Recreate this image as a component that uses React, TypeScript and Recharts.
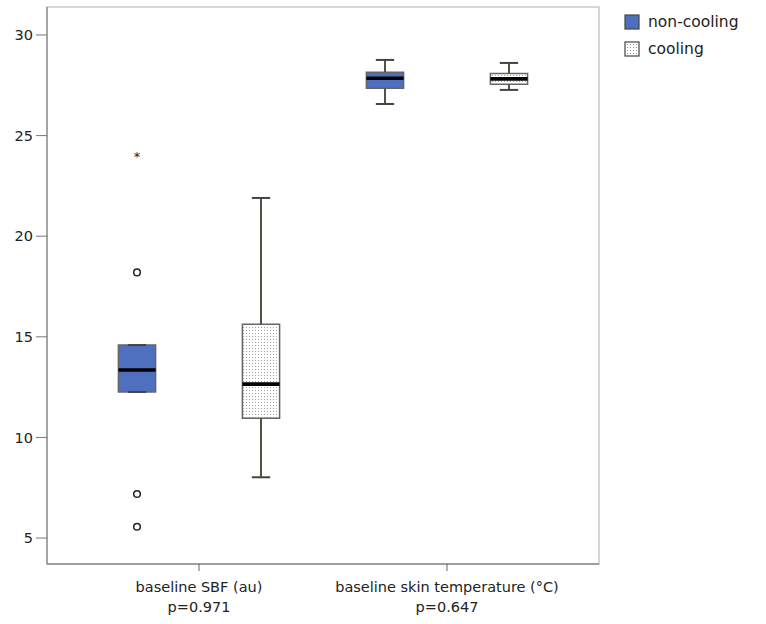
import React from "react";
import {
  ComposedChart,
  XAxis,
  YAxis,
  ReferenceArea,
  ReferenceLine,
  Scatter,
} from "recharts";

const categories = ["baseline SBF (au)", "baseline skin temperature (°C)"];
const pValues = ["p=0.971", "p=0.647"];
const categoryPositions = [1, 2];
const yTicks = [5, 10, 15, 20, 25, 30];

// box statistics per category: [SBF, skin temperature]
const nonCoolingMin = [12.26, 26.57];
const nonCoolingQ1 = [12.26, 27.35];
const nonCoolingMedian = [13.35, 27.85];
const nonCoolingQ3 = [14.59, 28.15];
const nonCoolingMax = [14.59, 28.76];

const coolingMin = [8.02, 27.27];
const coolingQ1 = [10.95, 27.55];
const coolingMedian = [12.65, 27.82];
const coolingQ3 = [15.62, 28.08];
const coolingMax = [21.9, 28.61];

// outliers (category index, value)
const nonCoolingOutlierCat = [0, 0, 0];
const nonCoolingOutlierVal = [18.2, 7.19, 5.56];
const nonCoolingExtremeCat = [0];
const nonCoolingExtremeVal = [24.04];

const BLUE = "#4f6fbf";
const FONT = "'DejaVu Sans', sans-serif";

const OFFSET = 0.25;
const BOX_HALF = 0.075;
const CAP_HALF = 0.037;

const groups = [
  {
    name: "non-cooling",
    offset: -OFFSET,
    fill: BLUE,
    min: nonCoolingMin,
    q1: nonCoolingQ1,
    median: nonCoolingMedian,
    q3: nonCoolingQ3,
    max: nonCoolingMax,
  },
  {
    name: "cooling",
    offset: OFFSET,
    fill: "url(#dots)",
    min: coolingMin,
    q1: coolingQ1,
    median: coolingMedian,
    q3: coolingQ3,
    max: coolingMax,
  },
];

const outlierData = nonCoolingOutlierCat.map((c, i) => ({
  x: categoryPositions[c] - OFFSET,
  y: nonCoolingOutlierVal[i],
}));
const extremeData = nonCoolingExtremeCat.map((c, i) => ({
  x: categoryPositions[c] - OFFSET,
  y: nonCoolingExtremeVal[i],
}));

const XTick = (props: any) => {
  const { x, y, payload } = props;
  const idx = categoryPositions.indexOf(payload.value);
  return (
    <g>
      <text x={x} y={y + 19} textAnchor="middle" fontSize={14.5} fontFamily={FONT} fill="#222">
        {categories[idx]}
      </text>
      <text x={x} y={y + 39} textAnchor="middle" fontSize={14.5} fontFamily={FONT} fill="#222">
        {pValues[idx]}
      </text>
    </g>
  );
};

const Circle = (props: any) => (
  <circle cx={props.cx} cy={props.cy} r={3.3} fill="#fff" stroke="#222" strokeWidth={1.5} />
);

const Star = (props: any) => (
  <text x={props.cx} y={props.cy + 6} textAnchor="middle" fontSize={13} fontFamily={FONT} fill="#222">
    *
  </text>
);

const ChartLegend = () => (
  <div
    style={{
      position: "absolute",
      left: 624,
      top: 8,
      fontFamily: FONT,
      fontSize: 15.5,
      color: "#222",
    }}
  >
    {groups.map((g, i) => (
      <div key={g.name} style={{ display: "flex", alignItems: "center", height: 27 }}>
        <svg width={16} height={16} style={{ marginRight: 8 }}>
          <defs>
            <pattern id={`ldots${i}`} width={3} height={3} patternUnits="userSpaceOnUse">
              <rect width={3} height={3} fill="#fff" />
              <rect width={1} height={1} fill="#9a9a9a" />
            </pattern>
          </defs>
          <rect
            x={1}
            y={1}
            width={14}
            height={14}
            fill={i === 0 ? BLUE : `url(#ldots${i})`}
            stroke="#444"
            strokeWidth={1.2}
          />
        </svg>
        <span>{g.name}</span>
      </div>
    ))}
  </div>
);

export default function App() {
  return (
    <div style={{ position: "absolute", left: 0, top: 0, width: 766, height: 624, background: "#fff" }}>
      <ComposedChart width={766} height={624} margin={{ top: 7, right: 167, bottom: 10, left: 7 }}>
        <defs>
          <pattern id="dots" width={3} height={3} patternUnits="userSpaceOnUse">
            <rect width={3} height={3} fill="#fff" />
            <rect width={1} height={1} fill="#a0a0a0" />
          </pattern>
        </defs>
        <XAxis
          type="number"
          dataKey="x"
          domain={[0.387, 2.613]}
          ticks={categoryPositions}
          allowDataOverflow
          height={50}
          tickSize={7}
          tick={<XTick />}
          stroke="#666"
          tickLine={{ stroke: "#666" }}
        />
        <YAxis
          type="number"
          dataKey="y"
          domain={[3.71, 31.39]}
          ticks={yTicks}
          allowDataOverflow
          width={40}
          tickSize={11}
          tickMargin={3}
          stroke="#777"
          tick={{ fontSize: 14.5, fontFamily: FONT, fill: "#222" }}
        />
        <ReferenceArea
          x1={0.387}
          x2={2.613}
          y1={3.71}
          y2={31.39}
          fill="none"
          stroke="#c8c8c8"
          strokeWidth={1.5}
          ifOverflow="visible"
        />
        {groups.flatMap((g) =>
          categoryPositions.map((pos, i) => {
            const cx = pos + g.offset;
            return (
              <React.Fragment key={`${g.name}-${i}`}>
                <ReferenceLine
                  segment={[{ x: cx, y: g.q3[i] }, { x: cx, y: g.max[i] }]}
                  stroke="#55533f"
                  strokeWidth={2}
                />
                <ReferenceLine
                  segment={[{ x: cx, y: g.min[i] }, { x: cx, y: g.q1[i] }]}
                  stroke="#55533f"
                  strokeWidth={2}
                />
                <ReferenceLine
                  segment={[{ x: cx - CAP_HALF, y: g.max[i] }, { x: cx + CAP_HALF, y: g.max[i] }]}
                  stroke="#444"
                  strokeWidth={2}
                />
                <ReferenceLine
                  segment={[{ x: cx - CAP_HALF, y: g.min[i] }, { x: cx + CAP_HALF, y: g.min[i] }]}
                  stroke="#444"
                  strokeWidth={2}
                />
                <ReferenceArea
                  x1={cx - BOX_HALF}
                  x2={cx + BOX_HALF}
                  y1={g.q1[i]}
                  y2={g.q3[i]}
                  fill={g.fill}
                  fillOpacity={1}
                  stroke="#666"
                  strokeWidth={1.5}
                />
                <ReferenceArea
                  x1={cx - BOX_HALF}
                  x2={cx + BOX_HALF}
                  y1={g.median[i] - 0.09}
                  y2={g.median[i] + 0.09}
                  fill="#000"
                  fillOpacity={1}
                  stroke="none"
                />
              </React.Fragment>
            );
          })
        )}
        <Scatter data={outlierData} shape={<Circle />} isAnimationActive={false} />
        <Scatter data={extremeData} shape={<Star />} isAnimationActive={false} />
      </ComposedChart>
      <ChartLegend />
    </div>
  );
}
